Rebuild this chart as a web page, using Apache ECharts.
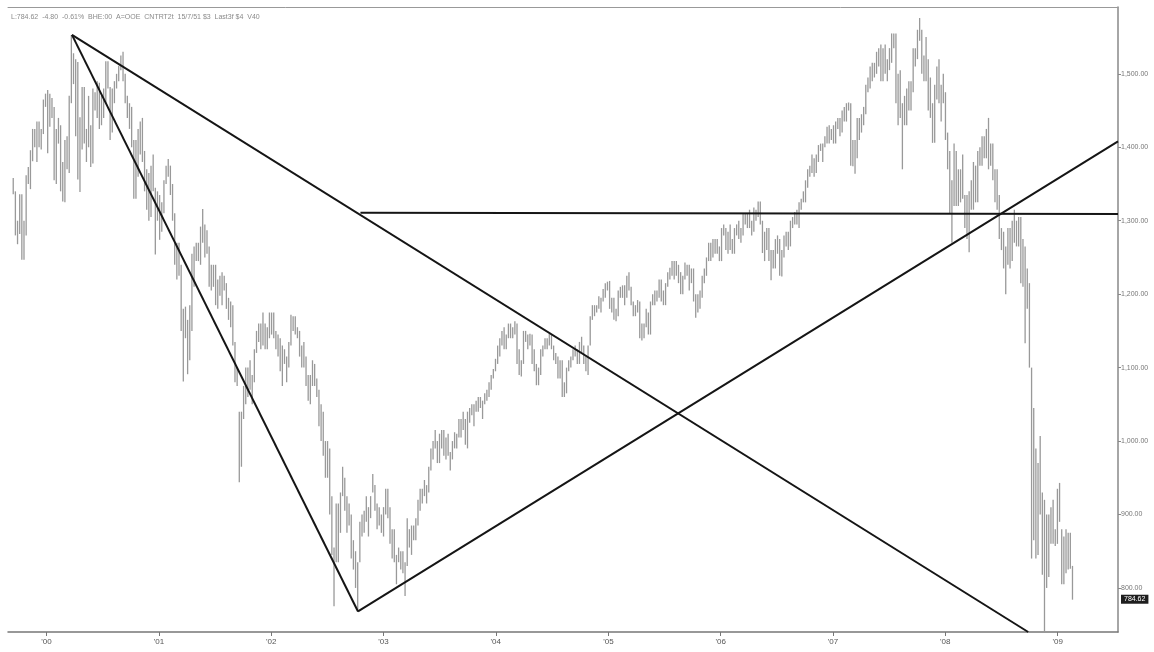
<!DOCTYPE html>
<html>
<head>
<meta charset="utf-8">
<script src="https://cdn.jsdelivr.net/npm/echarts@6/dist/echarts.min.js"></script>
<style>
  html, body { margin: 0; padding: 0; background: #fff; }
  #chart { width: 1154px; height: 652px; }
</style>
</head>
<body>
<div id="chart"></div>
<script>
// Weekly [low, high] ranges, one entry per week (weeks start Monday 1999-09-13)
var hl1999 = [[1336,1358],[1280,1340],[1268,1300],[1282,1336],[1247,1336],[1247,1300],[1280,1362],[1350,1373],[1343,1396],[1381,1425],[1400,1425],[1380,1435],[1400,1435],[1397,1425],[1418,1465],[1455,1473]];
var hl2000 = [[1392,1478],[1428,1473],[1440,1467],[1355,1455],[1350,1425],
  [1405,1440],[1340,1430],[1326,1380],[1325,1410],
  [1370,1415],[1365,1470],[1460,1553],[1486,1528],
  [1415,1520],[1356,1516],[1339,1441],[1397,1482],
  [1405,1482],[1380,1425],[1400,1470],[1373,1430],[1378,1480],
  [1450,1475],[1440,1490],[1425,1488],[1430,1470],
  [1440,1480],[1460,1517],[1480,1517],[1410,1482],[1420,1480],
  [1460,1490],[1480,1500],[1490,1511],[1505,1525],
  [1490,1530],[1460,1500],[1440,1470],[1425,1460],
  [1400,1455],[1330,1410],[1330,1410],[1360,1425],[1390,1435],
  [1380,1440],[1340,1395],[1315,1370],[1300,1365],
  [1305,1375],[1340,1390],[1254,1345],[1300,1340]];
var hl2001 = [[1274,1335],[1285,1325],[1310,1355],[1350,1375],[1360,1384],
  [1335,1375],[1300,1350],[1240,1310],[1220,1270],
  [1225,1270],[1150,1240],[1081,1180],[1140,1183],
  [1091,1165],[1110,1185],[1150,1255],[1210,1265],[1245,1270],
  [1245,1270],[1240,1292],[1270,1316],[1250,1295],
  [1255,1287],[1210,1265],[1205,1240],[1210,1240],
  [1185,1240],[1180,1220],[1198,1225],[1185,1230],[1205,1225],
  [1180,1215],[1165,1195],[1155,1190],[1130,1185],
  [1080,1135],[1075,1100],[944,1040],[965,1040],
  [1030,1075],[1050,1100],[1060,1100],[1070,1110],[1050,1090],
  [1080,1125],[1120,1150],[1135,1160],[1125,1160],
  [1130,1175],[1125,1160],[1125,1155],[1140,1175],[1145,1175]];
var hl2002 = [[1140,1175],[1125,1150],[1115,1145],[1095,1140],
  [1075,1130],[1105,1125],[1080,1115],[1100,1135],
  [1130,1172],[1150,1170],[1145,1170],[1140,1155],
  [1115,1150],[1100,1130],[1100,1135],[1075,1115],[1055,1090],
  [1050,1090],[1075,1110],[1075,1105],[1060,1085],
  [1020,1070],[1000,1050],[980,1040],[950,1000],
  [950,1000],[900,990],[845,925],[775,855],[835,915],
  [835,915],[875,930],[925,965],[905,950],
  [875,925],[885,915],[840,900],[825,865],[800,850],
  [768,835],[835,890],[870,900],[875,905],
  [890,925],[870,910],[895,925],[930,955],
  [905,940],[880,915],[885,910],[875,900],[870,910]];
var hl2003 = [[900,935],[895,935],[860,910],[840,880],
  [835,880],[805,845],[835,855],[825,850],
  [820,850],[789,835],[830,895],[855,880],[845,885],
  [865,885],[865,895],[885,920],[905,935],
  [915,935],[925,947],[915,940],[930,965],
  [960,990],[975,1000],[990,1015],[970,1000],[970,1010],
  [990,1015],[980,1015],[975,1005],[980,1010],
  [960,985],[975,1000],[990,1012],[990,1010],
  [1005,1030],[1005,1030],[1015,1040],[995,1030],[990,1040],
  [1025,1045],[1035,1050],[1020,1050],[1040,1055],
  [1040,1060],[1045,1060],[1030,1055],[1050,1065],
  [1055,1070],[1060,1080],[1070,1090],[1085,1098],[1095,1112]];
var hl2004 = [[1105,1130],[1115,1140],[1130,1150],[1125,1155],
  [1125,1145],[1140,1160],[1140,1160],[1140,1155],
  [1145,1163],[1105,1160],[1090,1125],[1088,1110],[1105,1150],
  [1135,1150],[1125,1145],[1130,1146],[1105,1145],
  [1095,1125],[1076,1105],[1076,1100],[1090,1125],[1115,1130],
  [1125,1140],[1125,1140],[1130,1146],[1125,1145],
  [1110,1130],[1105,1120],[1085,1115],[1085,1110],
  [1060,1110],[1060,1080],[1065,1100],[1095,1110],[1100,1115],
  [1110,1125],[1115,1130],[1105,1125],[1105,1135],
  [1120,1142],[1105,1130],[1095,1115],[1090,1130],
  [1130,1170],[1165,1185],[1170,1185],[1175,1185],[1180,1197],
  [1175,1195],[1190,1207],[1195,1215],[1205,1217]];
var hl2005 = [[1180,1218],[1175,1195],[1165,1195],[1163,1180],[1170,1205],
  [1195,1210],[1195,1212],[1185,1212],[1195,1225],
  [1205,1230],[1185,1210],[1170,1190],[1170,1185],
  [1175,1192],[1140,1190],[1137,1160],[1140,1160],
  [1155,1180],[1145,1175],[1145,1190],[1185,1200],[1185,1205],
  [1190,1205],[1195,1220],[1190,1220],[1185,1205],
  [1185,1215],[1210,1230],[1220,1236],[1225,1245],
  [1220,1245],[1225,1245],[1215,1240],[1200,1230],[1200,1225],
  [1220,1243],[1225,1240],[1205,1240],[1215,1235],
  [1190,1235],[1168,1200],[1175,1200],[1180,1205],[1195,1225],
  [1215,1235],[1225,1250],[1245,1270],[1245,1270],
  [1250,1275],[1255,1275],[1255,1275],[1245,1265]];
var hl2006 = [[1245,1290],[1280,1295],[1260,1290],[1255,1285],[1260,1295],
  [1255,1275],[1255,1290],[1280,1295],[1275,1300],
  [1270,1290],[1280,1310],[1295,1310],[1290,1310],
  [1290,1315],[1280,1300],[1285,1318],[1300,1315],
  [1305,1326],[1295,1326],[1256,1300],[1245,1285],[1260,1290],
  [1245,1290],[1219,1260],[1235,1260],[1235,1275],
  [1255,1280],[1225,1275],[1224,1260],[1250,1280],[1265,1285],
  [1260,1285],[1265,1300],[1290,1305],[1295,1312],
  [1295,1315],[1290,1325],[1315,1330],[1325,1340],
  [1325,1355],[1345,1370],[1360,1375],[1365,1390],[1360,1385],
  [1365,1390],[1380,1403],[1395,1405],[1380,1405],
  [1400,1415],[1405,1428],[1405,1430],[1410,1425]];
var hl2007 = [[1405,1430],[1405,1435],[1425,1440],[1415,1440],[1420,1450],
  [1435,1455],[1435,1460],[1450,1461],[1375,1460],
  [1374,1410],[1364,1410],[1385,1440],[1410,1440],
  [1420,1445],[1430,1455],[1445,1485],[1475,1495],[1480,1510],
  [1490,1515],[1495,1515],[1500,1530],[1510,1535],
  [1490,1540],[1490,1535],[1500,1540],[1490,1520],
  [1505,1535],[1515,1555],[1535,1555],[1460,1555],[1430,1500],
  [1440,1505],[1370,1460],[1430,1470],[1430,1480],
  [1450,1490],[1450,1490],[1475,1535],[1510,1535],
  [1520,1560],[1545,1576],[1500,1560],[1490,1525],[1490,1550],
  [1450,1520],[1440,1495],[1406,1460],[1406,1485],
  [1465,1510],[1460,1520],[1435,1485],[1460,1500],[1410,1475]];
var hl2008 = [[1370,1420],[1310,1395],[1270,1355],[1320,1405],
  [1320,1395],[1320,1370],[1325,1370],[1330,1390],
  [1290,1335],[1275,1335],[1257,1340],[1315,1355],[1315,1380],
  [1325,1375],[1325,1395],[1375,1400],[1375,1415],
  [1385,1415],[1385,1425],[1370,1440],[1375,1405],
  [1355,1405],[1325,1370],[1315,1370],[1275,1335],[1260,1290],
  [1235,1285],[1200,1265],[1240,1290],[1235,1290],
  [1245,1300],[1270,1315],[1265,1300],[1265,1305],
  [1215,1305],[1210,1275],[1133,1265],[1180,1235],[1100,1215],
  [840,1100],[865,1045],[840,990],[845,970],
  [900,1007],[818,930],[741,920],[800,900],
  [815,900],[860,910],[860,920],[857,880],[860,935]];
var hl2009 = [[890,943],[805,880],[805,870],[820,880],[825,875],[826,875],[784,830]];

var lastValue = 784.62;

// Trendlines [year, month(1-12), day, price]
var trendA = [[2000, 3, 24, 1553], [2002, 10, 10, 768]];
var trendB = [[2000, 3, 24, 1553], [2008, 9, 27, 740]];
var trendC = [[2002, 10, 10, 768], [2009, 7, 16, 1408]];
var levelLine = [[2002, 10, 18, 1311], [2009, 7, 16, 1309]];

// Axis tick values
var priceTicks = [800, 900, 1000, 1100, 1200, 1300, 1400, 1500];
var yearTicks = [2000, 2001, 2002, 2003, 2004, 2005, 2006, 2007, 2008, 2009];

var headerText = 'L:784.62  -4.80  -0.61%  BHE:00  A=OOE  CNTRT2t  15/7/51 $3  Last3f $4  V40';

function ts(y, m, d) { return new Date(y, m - 1, d).getTime(); }

// Build bar table: each week's bar sits mid-week
var allWeeks = [].concat(hl1999, hl2000, hl2001, hl2002, hl2003, hl2004, hl2005, hl2006, hl2007, hl2008, hl2009);
var barData = allWeeks.map(function (r, i) {
  return [new Date(1999, 8, 15 + 7 * i).getTime(), r[0], r[1]];
});
var yearTickTimes = yearTicks.map(function (y) { return ts(y, 1, 1); });
var xMin = ts(1999, 8, 29), xMax = ts(2009, 7, 16);

var chart = echarts.init(document.getElementById('chart'));
var trendStyle = { color: '#151515', width: 2 };
function trendSeries(d) {
  return {
    type: 'line', symbol: 'none', silent: true, lineStyle: trendStyle, z: 5, animation: false,
    data: d.map(function (p) { return [ts(p[0], p[1], p[2]), p[3]]; })
  };
}

chart.setOption({
  animation: false,
  backgroundColor: '#ffffff',
  title: {
    text: headerText, left: 6, top: 9,
    textStyle: { fontSize: 7, fontWeight: 'normal', color: '#8a8a8a', fontFamily: 'Liberation Sans' }
  },
  grid: { left: 8, right: 36, top: 7, bottom: 20 },
  xAxis: [{
    type: 'value', min: xMin, max: xMax,
    axisLine: { lineStyle: { color: '#777', width: 1.5 } },
    axisTick: { customValues: yearTickTimes, length: 4, lineStyle: { color: '#777' } },
    axisLabel: {
      customValues: yearTickTimes,
      formatter: function (v) { return "'" + String(new Date(v).getFullYear()).slice(2); },
      fontSize: 8, color: '#555', fontFamily: 'Liberation Sans', margin: 6
    },
    splitLine: { show: false }
  }, {
    type: 'value', position: 'top', min: xMin, max: xMax,
    axisLine: { show: true, lineStyle: { color: '#999', width: 1 } },
    axisTick: { show: false }, axisLabel: { show: false }, splitLine: { show: false }
  }],
  yAxis: {
    type: 'value', position: 'right', min: 740, max: 1591,
    axisLine: { show: true, lineStyle: { color: '#888', width: 1.5 } },
    axisTick: { show: true, customValues: priceTicks, length: 3, lineStyle: { color: '#888' } },
    axisLabel: {
      customValues: priceTicks,
      formatter: function (v) { return v.toLocaleString('en-US', { minimumFractionDigits: 2, maximumFractionDigits: 2 }); },
      fontSize: 7, color: '#777', fontFamily: 'Liberation Sans', margin: 3
    },
    splitLine: { show: false }
  },
  series: [{
    type: 'custom',
    data: barData,
    encode: { x: 0, y: [1, 2] },
    renderItem: function (params, api) {
      var p1 = api.coord([api.value(0), api.value(1)]);
      var p2 = api.coord([api.value(0), api.value(2)]);
      return {
        type: 'line',
        shape: { x1: p1[0], y1: p1[1], x2: p2[0], y2: p2[1] },
        style: { stroke: '#999999', lineWidth: 1.3 }
      };
    },
    markLine: {
      silent: true, symbol: 'none', animation: false,
      lineStyle: { color: 'rgba(0,0,0,0)', width: 1, type: 'solid' },
      label: {
        show: true, position: 'end', distance: 3,
        formatter: function () { return lastValue.toFixed(2); },
        backgroundColor: '#1e1e1e', color: '#ffffff', fontSize: 7, padding: [1, 3], fontFamily: 'Liberation Sans'
      },
      data: [{ yAxis: lastValue }]
    }
  },
  trendSeries(trendA), trendSeries(trendB), trendSeries(trendC), trendSeries(levelLine)]
});
</script>
</body>
</html>
